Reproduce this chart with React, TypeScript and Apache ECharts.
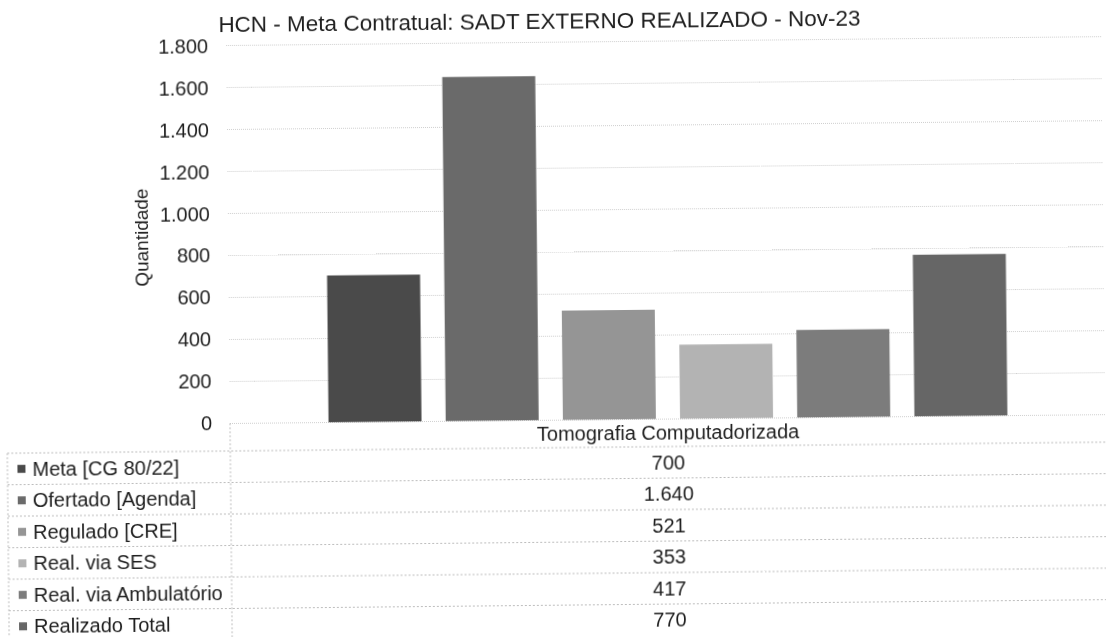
import React, { useEffect, useRef } from "react";
import * as echarts from "echarts";

const chartTitle = "HCN - Meta Contratual: SADT EXTERNO REALIZADO - Nov-23";
const categories = ["Tomografia Computadorizada"];
const seriesNames = [
  "Meta [CG 80/22]",
  "Ofertado [Agenda]",
  "Regulado [CRE]",
  "Real. via SES",
  "Real. via Ambulatório",
  "Realizado Total",
];
const seriesValues = [700, 1640, 521, 353, 417, 770];
const seriesColors = ["#4a4a4a", "#6a6a6a", "#959595", "#b3b3b3", "#7c7c7c", "#666666"];
const yAxisName = "Quantidade";
const yMin = 0;
const yMax = 1800;
const yStep = 200;

const FONT = "'Liberation Sans', Arial, sans-serif";
const TEXT = "#1e1e1e";

function fmt(v: number): string {
  return String(v).replace(/\B(?=(\d{3})+(?!\d))/g, ".");
}

export default function App() {
  const ref = useRef<HTMLDivElement>(null);
  useEffect(() => {
    document.body.style.margin = "0";
    const chart = echarts.init(ref.current!, undefined, { renderer: "svg" });
    const gridTop = 45.7;
    const gridBottomY = 423.3;
    const option: any = {
      animation: false,
      backgroundColor: "transparent",
      textStyle: { fontFamily: FONT },
      grid: [
        { left: 230, right: 0, top: gridTop, bottom: 637 - gridBottomY },
      ],
      xAxis: [
        {
          type: "category",
          data: categories,
          gridIndex: 0,
          axisLine: { show: false },
          axisTick: { show: false },
          axisLabel: { fontSize: 20, color: TEXT, margin: 4, fontFamily: FONT },
        },
      ],
      yAxis: [
        {
          type: "value",
          gridIndex: 0,
          min: yMin,
          max: yMax,
          interval: yStep,
          axisLine: { show: false },
          axisTick: { show: false },
          axisLabel: { fontSize: 20, color: TEXT, margin: 18, fontFamily: FONT, formatter: (v: number) => fmt(v) },
          splitLine: { show: true, lineStyle: { color: "#cfcfcf", type: "dotted", width: 1 } },
        },
      ],
      series: seriesNames.map((name, i) => ({
        name,
        type: "bar",
        xAxisIndex: 0,
        yAxisIndex: 0,
        barWidth: 93,
        barGap: "26%",
        itemStyle: { color: seriesColors[i] },
        data: [seriesValues[i]],
      })),
    };
    chart.setOption(option);

    const cx = chart.convertToPixel({ xAxisIndex: 0 }, categories[0]) as number;
    const rowTop = 451;
    const rowH = 31.5;
    const graphics: any[] = [];
    graphics.push({
      type: "text",
      x: 543.5,
      y: 24.5,
      style: { text: chartTitle, fontSize: 22.5, fontFamily: FONT, fill: TEXT, align: "center", verticalAlign: "middle" },
    });
    graphics.push({
      type: "text",
      x: 143.5,
      y: 236.7,
      rotation: Math.PI / 2,
      style: { text: yAxisName, fontSize: 19, fontFamily: FONT, fill: TEXT, align: "center", verticalAlign: "middle" },
    });
    const lineStyle = { stroke: "#bdbdbd", lineWidth: 1, lineDash: [2, 2] };
    for (let k = 0; k <= seriesNames.length; k++) {
      const y = rowTop + k * rowH;
      graphics.push({ type: "line", shape: { x1: 7, y1: y, x2: 1106, y2: y }, style: lineStyle, silent: true });
    }
    graphics.push({ type: "line", shape: { x1: 7, y1: rowTop, x2: 7, y2: 660 }, style: lineStyle, silent: true });
    graphics.push({ type: "line", shape: { x1: 230, y1: gridBottomY, x2: 230, y2: 660 }, style: lineStyle, silent: true });
    seriesNames.forEach((name, i) => {
      const yc = rowTop + i * rowH + rowH / 2;
      graphics.push({ type: "rect", shape: { x: 17, y: yc - 4, width: 8, height: 8 }, style: { fill: seriesColors[i] }, silent: true });
      graphics.push({
        type: "text",
        x: 32,
        y: yc,
        style: { text: name, fontSize: 20, fontFamily: FONT, fill: TEXT, align: "left", verticalAlign: "middle" },
      });
      graphics.push({
        type: "text",
        x: cx,
        y: yc,
        style: { text: fmt(seriesValues[i]), fontSize: 20, fontFamily: FONT, fill: TEXT, align: "center", verticalAlign: "middle" },
      });
    });
    chart.setOption({ graphic: graphics });
    return () => chart.dispose();
  }, []);
  return (
    <div
      style={{
        position: "fixed",
        left: 0,
        top: 0,
        width: 1106,
        height: 637,
        background: "#ffffff",
        transform: "rotate(-0.58deg)",
        transformOrigin: "230px 423px",
      }}
    >
      <div ref={ref} style={{ width: 1106, height: 637 }} />
    </div>
  );
}
